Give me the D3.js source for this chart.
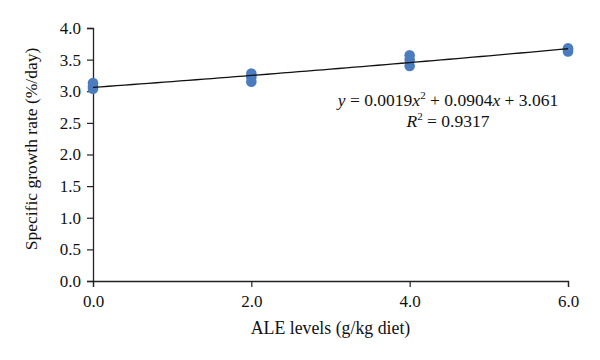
<!DOCTYPE html>
<html>
<head>
<meta charset="utf-8">
<script src="https://cdn.jsdelivr.net/npm/d3@7"></script>
<style>
  body { margin: 0; background: #fff; }
  text { font-family: "Liberation Serif", "DejaVu Serif", serif; fill: #111; }
</style>
</head>
<body>
<div id="chart"></div>
<script>
const aleLevels = [0, 0, 0, 2, 2, 2, 4, 4, 4, 6, 6, 6];
const growthRates = [3.04, 3.08, 3.13, 3.15, 3.22, 3.28, 3.40, 3.50, 3.57, 3.63, 3.66, 3.68];
const xTicks = [0, 2, 4, 6];
const yTicks = [0, 0.5, 1, 1.5, 2, 2.5, 3, 3.5, 4];
// polynomial trend coefficients printed on the chart (a*x^2 + b*x + c)
const trendCoef = [0.0019, 0.0904, 3.061];

const width = 600, height = 360;
const margin = {top: 28, right: 32, bottom: 79, left: 93};

const svg = d3.select("#chart").append("svg")
    .attr("width", width)
    .attr("height", height);

const x = d3.scaleLinear().domain([0, 6]).range([margin.left, width - margin.right]);
const y = d3.scaleLinear().domain([0, 4]).range([height - margin.bottom, margin.top]);

// axes
const yAxis = svg.append("g")
    .attr("transform", `translate(${margin.left},0)`)
    .call(d3.axisLeft(y).tickValues(yTicks).tickFormat(d3.format(".1f")).tickSize(6).tickPadding(6));
const xAxis = svg.append("g")
    .attr("transform", `translate(0,${height - margin.bottom})`)
    .call(d3.axisBottom(x).tickValues(xTicks).tickFormat(d3.format(".1f")).tickSize(6).tickPadding(8));

[xAxis, yAxis].forEach(g => {
    g.select(".domain").attr("stroke", "#222").attr("stroke-width", 1.3);
    g.selectAll(".tick line").attr("stroke", "#222").attr("stroke-width", 1.2);
    g.selectAll(".tick text").attr("font-size", 17).attr("font-family", "Liberation Serif").attr("fill", "#111");
});

// points
svg.append("g").selectAll("circle")
    .data(aleLevels.map((d, i) => ({x: d, y: growthRates[i]})))
    .enter().append("circle")
    .attr("cx", d => x(d.x))
    .attr("cy", d => y(d.y))
    .attr("r", 5.3)
    .attr("fill", "#4a7cbf");

// trend line from the printed equation
const trend = x0 => trendCoef[0] * x0 * x0 + trendCoef[1] * x0 + trendCoef[2];
const line = d3.line().x(d => x(d)).y(d => y(trend(d)));
svg.append("path")
    .datum(d3.range(0, 6.01, 0.1))
    .attr("d", line)
    .attr("fill", "none")
    .attr("stroke", "#111")
    .attr("stroke-width", 1.3);

// equation label
const eq = svg.append("text").attr("x", 448).attr("y", 106).attr("text-anchor", "middle").attr("font-size", 17.5);
eq.append("tspan").attr("font-style", "italic").text("y");
eq.append("tspan").text(" = 0.0019");
eq.append("tspan").attr("font-style", "italic").text("x");
eq.append("tspan").attr("font-size", 11).attr("dy", -7).text("2");
eq.append("tspan").attr("dy", 7).text(" + 0.0904");
eq.append("tspan").attr("font-style", "italic").text("x");
eq.append("tspan").text(" + 3.061");

const r2 = svg.append("text").attr("x", 448).attr("y", 127).attr("text-anchor", "middle").attr("font-size", 17.5);
r2.append("tspan").attr("font-style", "italic").text("R");
r2.append("tspan").attr("font-size", 11).attr("dy", -7).text("2");
r2.append("tspan").attr("dy", 7).text(" = 0.9317");

// axis titles
svg.append("text")
    .attr("x", (margin.left + width - margin.right) / 2)
    .attr("y", 334)
    .attr("text-anchor", "middle")
    .attr("font-size", 17.8)
    .text("ALE levels (g/kg diet)");

svg.append("text")
    .attr("transform", `translate(37,149) rotate(-90)`)
    .attr("text-anchor", "middle")
    .attr("font-size", 17.5)
    .text("Specific growth rate (%/day)");
</script>
</body>
</html>
